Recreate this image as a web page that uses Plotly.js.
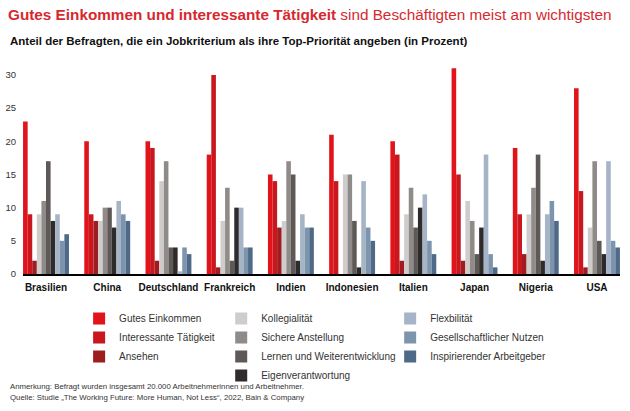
<!DOCTYPE html>
<html>
<head>
<meta charset="utf-8">
<script src="https://cdn.plot.ly/plotly-3.0.1.min.js"></script>
<style>html,body{margin:0;padding:0;background:#fff;}#chart{width:630px;height:411px;}</style>
</head>
<body>
<div id="chart"></div>
<script>
const countries = ["Brasilien","China","Deutschland","Frankreich","Indien","Indonesien","Italien","Japan","Nigeria","USA"];
const seriesNames = ["Gutes Einkommen","Interessante Tätigkeit","Ansehen","Kollegialität","Sichere Anstellung","Lernen und Weiterentwicklung","Eigenverantwortung","Flexbilität","Gesellschaftlicher Nutzen","Inspirierender Arbeitgeber"];
const gutesEinkommen        = [23, 20, 20, 18, 15, 21, 20, 31, 19, 28];
const interessanteTaetigkeit = [9, 9, 19, 30, 14, 14, 18, 15, 9, 12.5];
const ansehen               = [2, 8, 2, 1, 7, 0, 2, 2, 3, 1];
const kollegialitaet        = [9, 8, 14, 8, 8, 15, 9, 11, 9, 7];
const sichereAnstellung     = [11, 10, 17, 13, 17, 15, 13, 8, 13, 17];
const lernen                = [17, 10, 4, 2, 15, 8, 7, 3, 18, 5];
const eigenverantwortung    = [8, 7, 4, 10, 2, 1, 10, 7, 2, 3];
const flexibilitaet         = [9, 11, 0.4, 10, 9, 14, 12, 18, 9, 17];
const gesNutzen             = [5, 9, 4, 4, 7, 7, 5, 3, 11, 5];
const inspirierend          = [6, 8, 3, 4, 7, 5, 3, 1, 8, 4];
const seriesValues = [gutesEinkommen, interessanteTaetigkeit, ansehen, kollegialitaet, sichereAnstellung, lernen, eigenverantwortung, flexibilitaet, gesNutzen, inspirierend];
const yTicks = [0, 5, 10, 15, 20, 25, 30];

const colors = ["#e1131b","#c9171e","#9e1d21","#cfcccb","#8f8b89","#5e5957","#2f2b2a","#a5b4c6","#7d94ad","#4f6a88"];
const legendFor = ["legend","legend","legend","legend2","legend2","legend2","legend2","legend3","legend3","legend3"];

const traces = seriesNames.map((name, i) => ({
  type: "bar",
  name: name,
  x: countries,
  y: seriesValues[i],
  marker: {color: colors[i], line: {width: 0}},
  legend: legendFor[i],
  hoverinfo: "x+y+name"
}));

const FONT = "Liberation Sans, Arial, Helvetica, sans-serif";
const legendCommon = {
  orientation: "v",
  yanchor: "top",
  xanchor: "left",
  y: -0.145,
  bgcolor: "rgba(0,0,0,0)",
  font: {family: FONT, size: 10, color: "#333"},
  traceorder: "normal",
  itemclick: false,
  itemdoubleclick: false
};

const layout = {
  width: 630,
  height: 411,
  margin: {l: 23, r: 10, t: 67, b: 137},
  paper_bgcolor: "#fff",
  plot_bgcolor: "#fff",
  font: {family: FONT, color: "#333"},
  bargap: 0.25,
  bargroupgap: 0,
  barmode: "group",
  title: {
    text: "<b>Gutes Einkommen und interessante Tätigkeit</b> sind Beschäftigten meist am wichtigsten",
    font: {family: FONT, size: 15.3, color: "#d7282f"},
    x: 8/630, xanchor: "left", xref: "container",
    y: 1 - 15/411, yanchor: "middle", yref: "container"
  },
  xaxis: {
    range: [-0.376, 9.376],
    showline: true, linecolor: "#000", linewidth: 2,
    showgrid: false, zeroline: false, ticks: "",
    ticklabelstandoff: 3,
    tickfont: {family: FONT, size: 10, color: "#111", weight: "bold"},
    fixedrange: true
  },
  yaxis: {
    range: [0, 31.2],
    tickvals: yTicks,
    ticktext: yTicks.map(String),
    showgrid: false, zeroline: false, showline: false, ticks: "",
    ticklabelstandoff: 6,
    tickfont: {family: FONT, size: 9.5, color: "#333"},
    fixedrange: true
  },
  showlegend: true,
  legend: Object.assign({}, legendCommon, {x: 0.094}),
  legend2: Object.assign({}, legendCommon, {x: 0.332}),
  legend3: Object.assign({}, legendCommon, {x: 0.615}),
  annotations: [
    {
      text: "<b>Anteil der Befragten, die ein Jobkriterium als ihre Top-Priorität angeben (in Prozent)</b>",
      xref: "paper", yref: "paper",
      x: -15/597, y: (274 - 41) / 207, xanchor: "left", yanchor: "middle",
      showarrow: false, font: {family: FONT, size: 11.5, color: "#111"}
    },
    {
      text: "Anmerkung: Befragt wurden insgesamt 20.000 Arbeitnehmerinnen und Arbeitnehmer.",
      xref: "paper", yref: "paper",
      x: -15/597, y: (274 - 386) / 207, xanchor: "left", yanchor: "middle",
      showarrow: false, font: {family: FONT, size: 7.8, color: "#333"}
    },
    {
      text: "Quelle: Studie „The Working Future: More Human, Not Less“, 2022, Bain & Company",
      xref: "paper", yref: "paper",
      x: -15/597, y: (274 - 397) / 207, xanchor: "left", yanchor: "middle",
      showarrow: false, font: {family: FONT, size: 7.8, color: "#333"}
    }
  ]
};

Plotly.newPlot("chart", traces, layout, {displayModeBar: false, staticPlot: false});
</script>
</body>
</html>
